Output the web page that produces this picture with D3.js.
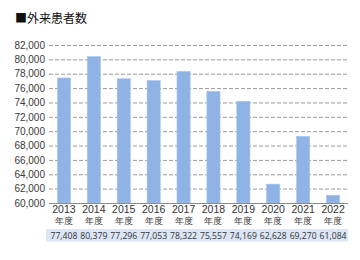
<!DOCTYPE html>
<html>
<head>
<meta charset="utf-8">
<script src="https://cdn.jsdelivr.net/npm/d3@7"></script>
<style>
  body { margin: 0; background: #fff; }
  svg { display: block; font-family: "Open Sans", "Noto Sans CJK JP", sans-serif; }
</style>
</head>
<body>
<svg id="chart" width="360" height="260"></svg>
<script>
// データ
const years = ["2013", "2014", "2015", "2016", "2017", "2018", "2019", "2020", "2021", "2022"];
const patients = [77408, 80379, 77296, 77053, 78322, 75557, 74169, 62628, 69270, 61084];
const yTicks = [60000, 62000, 64000, 66000, 68000, 70000, 72000, 74000, 76000, 78000, 80000, 82000];
const title = "■外来患者数";
const yearSuffix = "年度";

const svg = d3.select("#chart");
const margin = {top: 45, right: 12, bottom: 57, left: 49};
const width = 360, height = 260;

// スケール
const x = d3.scaleBand()
  .domain(years)
  .range([margin.left, width - margin.right])
  .paddingInner(0.56)
  .paddingOuter(0.28);

const y = d3.scaleLinear()
  .domain([60000, 82000])
  .range([height - margin.bottom, margin.top]);

const fmt = d3.format(",");

// タイトル
svg.append("text")
  .attr("x", 15)
  .attr("y", 23)
  .attr("font-size", 12)
  .attr("fill", "#111")
  .text(title);

// y 軸 (罫線)
const yAxis = svg.append("g")
  .attr("transform", `translate(${margin.left},0)`)
  .call(d3.axisLeft(y)
    .tickValues(yTicks)
    .tickSize(-(width - margin.left - margin.right))
    .tickPadding(4)
    .tickFormat(fmt));
yAxis.select(".domain").remove();
yAxis.selectAll("line")
  .attr("stroke", "#9a9a9a")
  .attr("stroke-dasharray", "4,2");
yAxis.selectAll("text")
  .attr("font-size", 10)
  .attr("fill", "#3a3a3a");
yAxis.selectAll(".tick").filter(d => d === 60000).select("line").remove();

// 棒
svg.append("g").selectAll("rect")
  .data(patients)
  .join("rect")
  .attr("x", (d, i) => x(years[i]))
  .attr("y", d => y(d))
  .attr("width", x.bandwidth())
  .attr("height", d => y(60000) - y(d))
  .attr("fill", "#8fb3e4")
  .attr("stroke", "#a9c5ec")
  .attr("stroke-width", 0.6);

// x 軸
const xAxis = svg.append("g")
  .attr("transform", `translate(0,${y(60000)})`)
  .call(d3.axisBottom(x).tickSize(0).tickPadding(3));
xAxis.select(".domain")
  .attr("stroke", "#8a8a8a")
  .attr("stroke-width", 1.2)
  .attr("d", `M${margin.left},0.5H${width - margin.right}`);
xAxis.selectAll("text")
  .attr("font-size", 10.5)
  .attr("fill", "#333");
xAxis.selectAll(".tick").append("text")
  .attr("y", 21)
  .attr("font-size", 8.5)
  .attr("fill", "#333")
  .attr("text-anchor", "middle")
  .text(yearSuffix);

// 数値の表
svg.append("rect")
  .attr("x", margin.left - 3)
  .attr("y", 229)
  .attr("width", width - margin.right - margin.left + 3)
  .attr("height", 12.5)
  .attr("fill", "#dce6f5");

svg.append("g").selectAll("text")
  .data(patients)
  .join("text")
  .attr("x", (d, i) => x(years[i]) + x.bandwidth() / 2 - 13.5)
  .attr("y", 238.5)
  .attr("font-size", 9.4)
  .attr("fill", "#333")
  .attr("textLength", 27)
  .attr("lengthAdjust", "spacingAndGlyphs")
  .text(d => fmt(d));
</script>
</body>
</html>
